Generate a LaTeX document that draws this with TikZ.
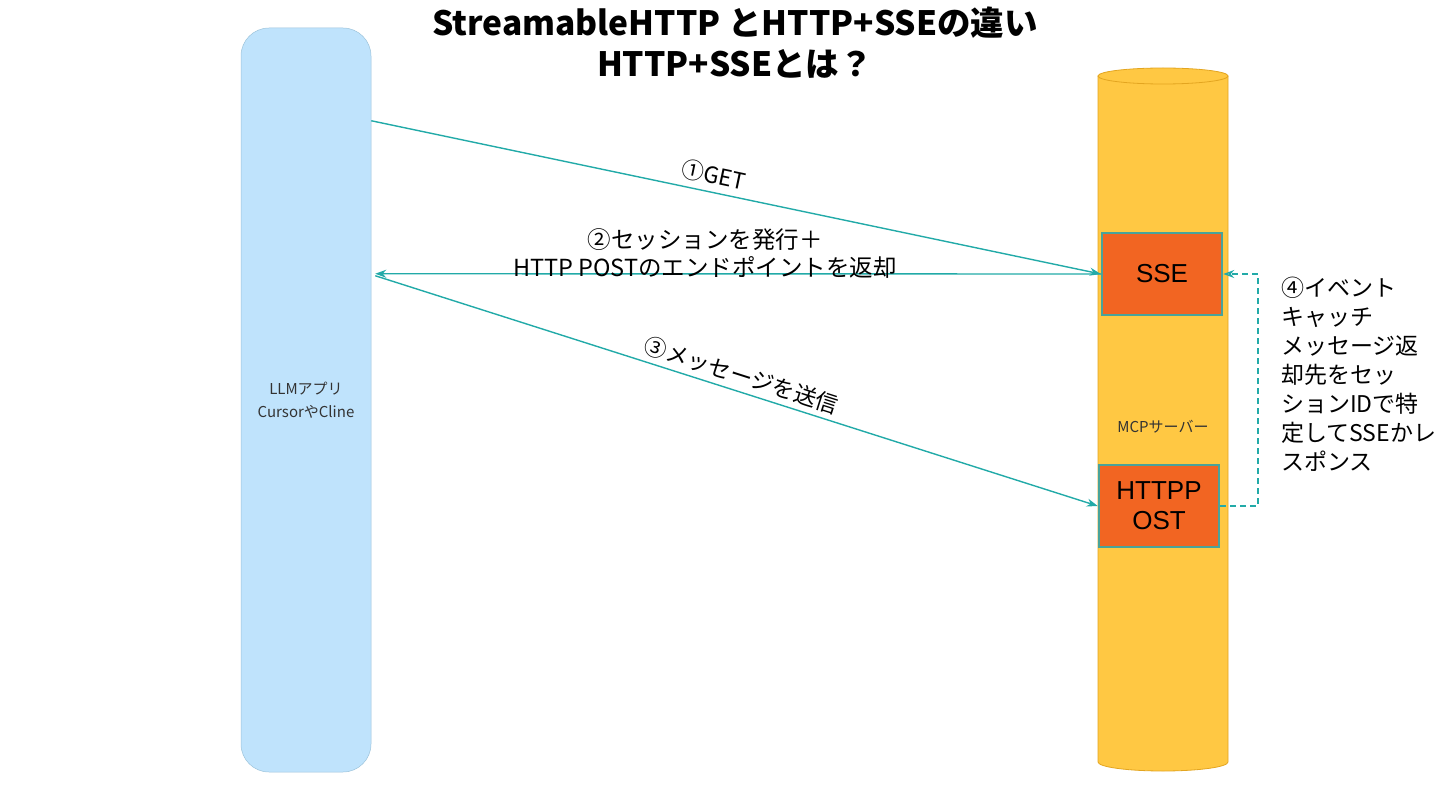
\documentclass[tikz,border=0pt]{standalone}
\usepackage{fontspec}
\setmainfont{Noto Sans CJK JP}
\newfontfamily\helv{Liberation Sans}
\usetikzlibrary{arrows.meta,calc}
\definecolor{barblue}{HTML}{BFE3FC}
\definecolor{barline}{HTML}{9CC3DA}
\definecolor{cylfill}{HTML}{FFC843}
\definecolor{cylline}{HTML}{E3A520}
\definecolor{boxorange}{HTML}{F26522}
\definecolor{boxline}{HTML}{4AA39A}
\definecolor{teal}{HTML}{22AAA8}
\definecolor{txtgray}{HTML}{333333}
\tikzset{
  llmbar/.style={draw=barline, line width=0.5pt, fill=barblue, rounded corners=28pt, minimum width=130pt, minimum height=744pt, inner sep=0pt, align=center, font=\fontsize{15}{23}\selectfont, text=txtgray},
  procbox/.style={draw=boxline, line width=2.5pt, fill=boxorange, minimum width=120pt, minimum height=82pt, inner sep=0pt, align=center, font=\helv\fontsize{26}{30}\selectfont},
  flow/.style={draw=teal, line width=1.4pt, -{Stealth[length=11pt,width=8pt]}},
  dflow/.style={draw=teal, line width=1.4pt, dash pattern=on 6pt off 4pt, -{Stealth[length=11pt,width=8pt,open]}},
  lbl/.style={font=\fontsize{22.5}{28}\selectfont, inner sep=1pt},
}
\begin{document}
\begin{tikzpicture}[x=1pt,y=-1pt]
\useasboundingbox (0,0) rectangle (1440,810);
% title
\node[font=\bfseries\fontsize{33.5}{41}\selectfont, align=center] (title) at (735,43) {StreamableHTTP とHTTP+SSEの違い\\HTTP+SSEとは？};
% left bar
\node[llmbar] (llm) at (306,400) {LLMアプリ\\CursorやCline};
% cylinder
\filldraw[fill=cylfill, draw=cylline, line width=0.8pt] (1098,76) -- (1098,762) arc[start angle=180, end angle=0, x radius=65, y radius=9] -- (1228,76);
\filldraw[fill=cylfill, draw=cylline, line width=0.8pt] (1163,76) ellipse[x radius=65, y radius=8];
\node[font=\fontsize{15}{16}\selectfont, text=txtgray] (mcp) at (1163,427) {MCPサーバー};
% boxes
\node[procbox] (sse) at (1162,274) {SSE};
\node[procbox] (post) at (1159,506) {HTTPP\\OST};
% connectors
\coordinate (a1) at ($(llm.north east)+(0,93)$);
\coordinate (a2) at ($(llm.north east)+(4,246)$);
\coordinate (a3) at ($(llm.north east)+(4,248)$);
\draw[flow] (a1) -- node[pos=0.465, sloped, above=5pt, lbl] {①GET} (sse.west);
\draw[flow] (sse.west) -- (a2);
\node[lbl, align=center, font=\fontsize{23.5}{28}\selectfont] (l2) at (705,253) {②セッションを発行＋\\HTTP POSTのエンドポイントを返却};
\draw[flow] (a3) -- node[pos=0.5, sloped, above=4pt, lbl] {③メッセージを送信} (post.west);
\coordinate (d1) at (1258,506);
\coordinate (d2) at (1258,274);
\draw[dflow] (post.east) -- (d1) -- (d2) -- (sse.east);
\node[lbl, anchor=north west, align=left, font=\fontsize{23}{29}\selectfont] (l4) at (1280,276) {④イベント\\キャッチ\\メッセージ返\\却先をセッ\\ションIDで特\\定してSSEかレ\\スポンス};
\end{tikzpicture}
\end{document}
